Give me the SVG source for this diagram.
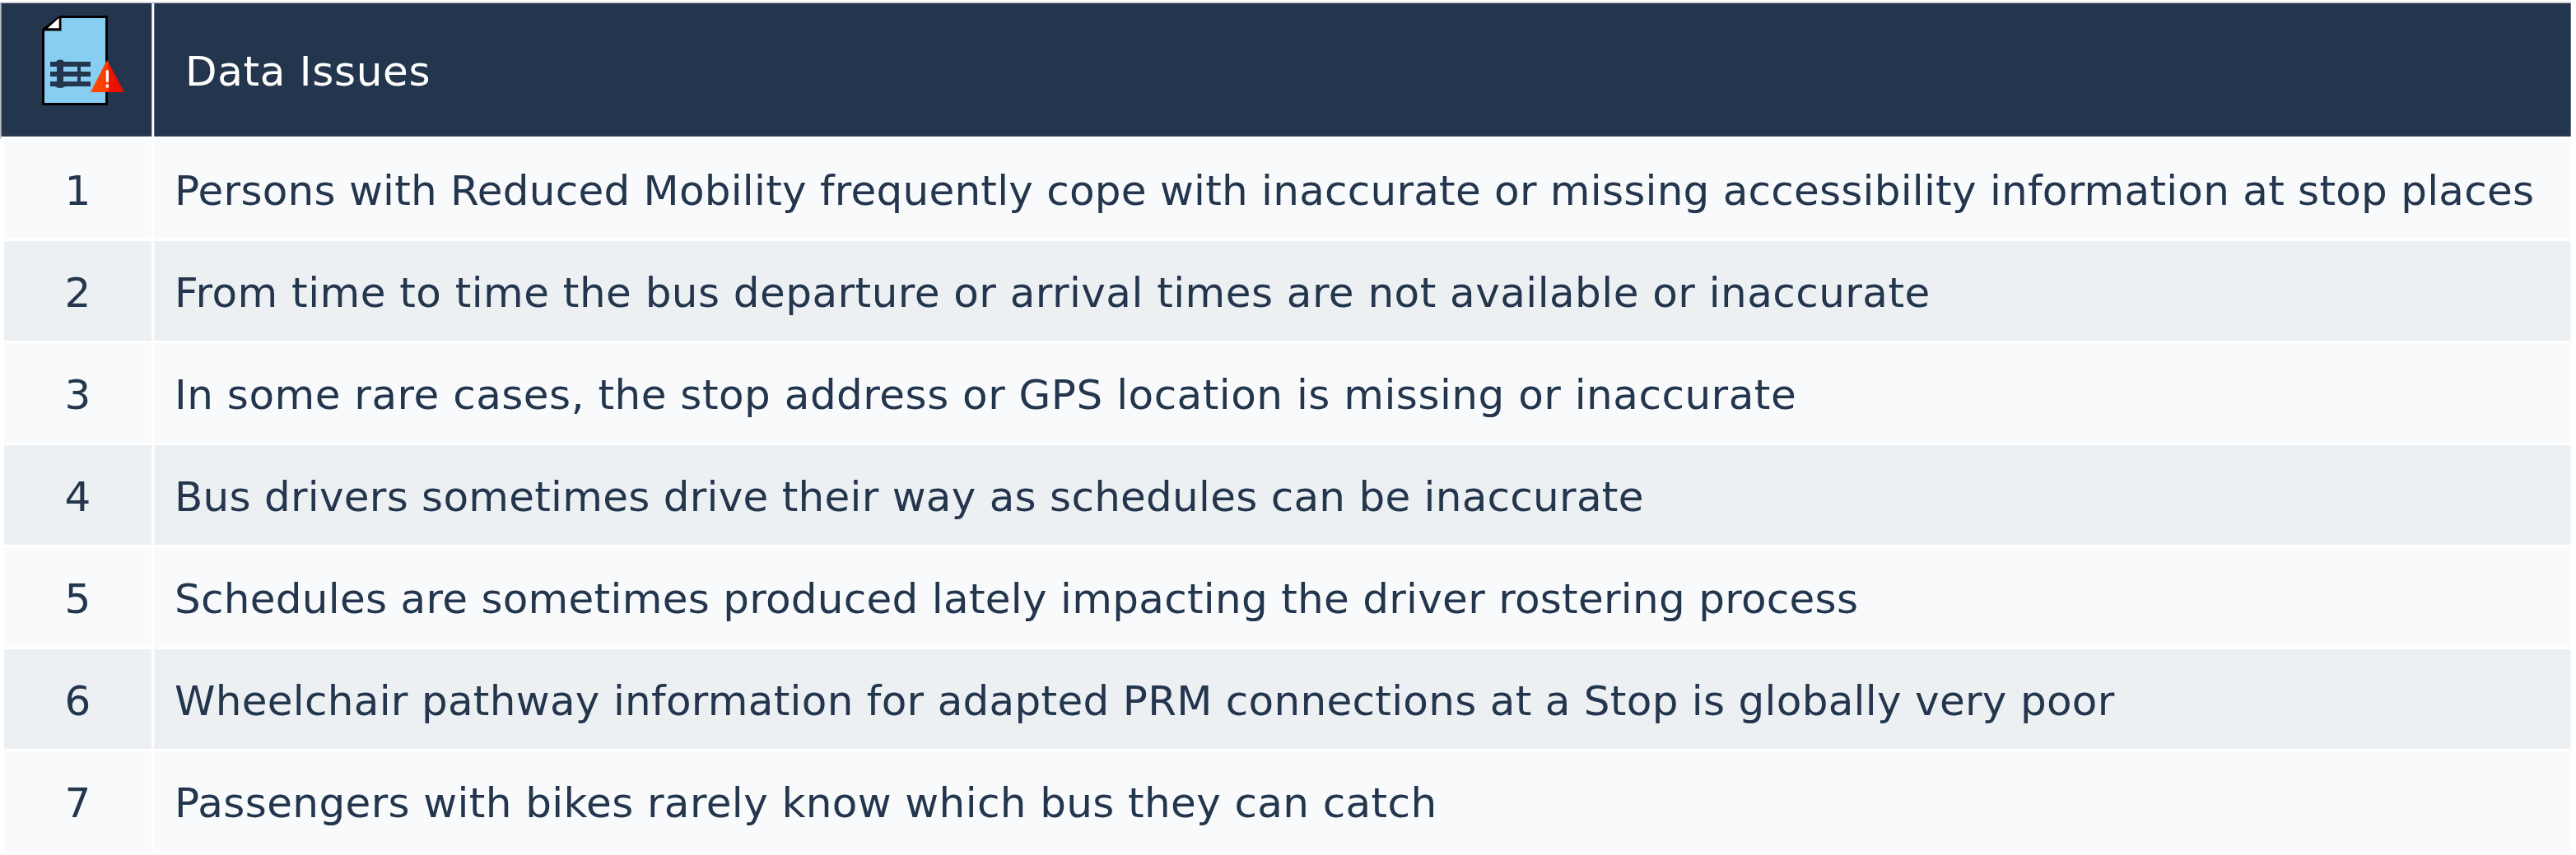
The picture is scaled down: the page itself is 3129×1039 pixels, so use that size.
<svg xmlns="http://www.w3.org/2000/svg" width="3129" height="1039" viewBox="0 0 3129 1039">
<style>
.hd{fill:#24364d}
.odd{fill:#f9fafc}
.even{fill:#edf0f3}
text{font-family:"DejaVu Sans",Verdana,sans-serif;font-size:50px;fill:#24364d}
.n{text-anchor:middle}
.h{fill:#ffffff}
</style>
<defs>
<linearGradient id="warn" x1="0" x2="1" y1="0" y2="0">
<stop offset="0" stop-color="#ff4a00"/><stop offset="0.5" stop-color="#fb3b00"/><stop offset="0.55" stop-color="#ee1500"/><stop offset="1" stop-color="#e20c00"/>
</linearGradient>
</defs>
<rect width="3129" height="1039" fill="#ffffff"/>
<path d="M0.500 169V3.500H3123" fill="none" stroke="#b9bfc6" stroke-width="1.500"/>
<g id="header">
<rect class="hd" x="1.500" y="4" width="182.800" height="161.800"/>
<rect class="hd" x="187.300" y="4" width="2935.400" height="161.800"/>
<text class="h" x="225" y="104" letter-spacing="0.700">Data Issues</text>
</g>
<g id="icon">
<path d="M52.500 36L73 20.500H129.500V126.500H52.500Z" fill="#87cef2" stroke="#000" stroke-width="3"/>
<path d="M51 37.500V35.500L72.500 19H74.500V37.500Z" fill="#000"/>
<path d="M58 34.300L71.700 21.700V34.300Z" fill="#fff"/>
<g fill="#24364d">
<rect x="61" y="75" width="49" height="6"/>
<rect x="61" y="87" width="49" height="6"/>
<rect x="61" y="99" width="49" height="6"/>
<rect x="69" y="75" width="8" height="30"/>
<rect x="94" y="75" width="4" height="30"/>
<ellipse cx="73" cy="76" rx="5" ry="3.500"/>
<ellipse cx="73" cy="104" rx="6" ry="3"/>
<path d="M94 83L102 90L94 97Z"/>
</g>
<path d="M130 73L151 112H110Z" fill="url(#warn)"/>
<rect x="128.700" y="85" width="3.300" height="15" rx="1.500" fill="#fff"/>
<rect x="128.700" y="102.500" width="3.300" height="4" fill="#fff"/>
</g>
<g id="row1"><rect class="odd" x="5" y="169" width="179.300" height="121"/><rect class="odd" x="187.300" y="169" width="2935.400" height="121"/><text class="n" x="94.500" y="249">1</text><text x="212" y="249" letter-spacing="0.240">Persons with Reduced Mobility frequently cope with inaccurate or missing accessibility information at stop places</text></g>
<g id="row2"><rect class="even" x="5" y="293" width="179.300" height="121"/><rect class="even" x="187.300" y="293" width="2935.400" height="121"/><text class="n" x="94.500" y="373">2</text><text x="212" y="373" letter-spacing="0.460">From time to time the bus departure or arrival times are not available or inaccurate</text></g>
<g id="row3"><rect class="odd" x="5" y="417" width="179.300" height="121"/><rect class="odd" x="187.300" y="417" width="2935.400" height="121"/><text class="n" x="94.500" y="497">3</text><text x="212" y="497" letter-spacing="0.500">In some rare cases, the stop address or GPS location is missing or inaccurate</text></g>
<g id="row4"><rect class="even" x="5" y="541" width="179.300" height="121"/><rect class="even" x="187.300" y="541" width="2935.400" height="121"/><text class="n" x="94.500" y="621">4</text><text x="212" y="621" letter-spacing="0.260">Bus drivers sometimes drive their way as schedules can be inaccurate</text></g>
<g id="row5"><rect class="odd" x="5" y="665" width="179.300" height="121"/><rect class="odd" x="187.300" y="665" width="2935.400" height="121"/><text class="n" x="94.500" y="745">5</text><text x="212" y="745" letter-spacing="0.280">Schedules are sometimes produced lately impacting the driver rostering process</text></g>
<g id="row6"><rect class="even" x="5" y="789" width="179.300" height="121"/><rect class="even" x="187.300" y="789" width="2935.400" height="121"/><text class="n" x="94.500" y="869">6</text><text x="212" y="869" letter-spacing="0.290">Wheelchair pathway information for adapted PRM connections at a Stop is globally very poor</text></g>
<g id="row7"><rect class="odd" x="5" y="913" width="179.300" height="121"/><rect class="odd" x="187.300" y="913" width="2935.400" height="121"/><text class="n" x="94.500" y="993">7</text><text x="212" y="993" letter-spacing="0.380">Passengers with bikes rarely know which bus they can catch</text></g>
</svg>
